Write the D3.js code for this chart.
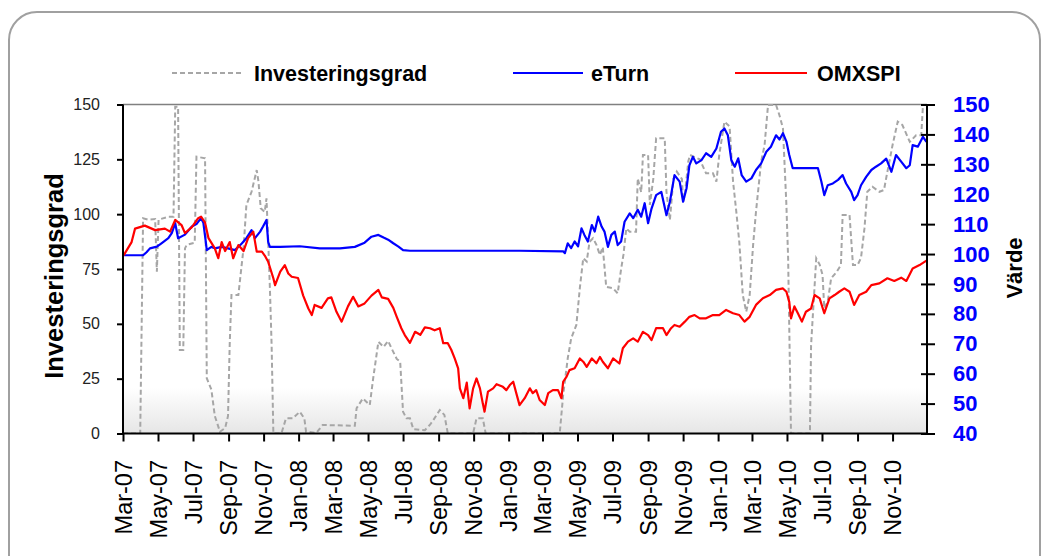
<!DOCTYPE html>
<html><head><meta charset="utf-8">
<script src="https://cdnjs.cloudflare.com/ajax/libs/d3/7.8.5/d3.min.js"></script>
<style>html,body{margin:0;padding:0;background:#fff;} svg{display:block;font-family:"Liberation Sans",Arial,sans-serif;}</style>
</head><body><svg id="chart" width="1048" height="556"></svg>
<script>
// ---------- data ----------
const seriesNames = ["Investeringsgrad", "eTurn", "OMXSPI"];
const xTickDates = ["2007-03-01","2007-05-01","2007-07-01","2007-09-01","2007-11-01","2008-01-01","2008-03-01","2008-05-01","2008-07-01","2008-09-01","2008-11-01","2009-01-01","2009-03-01","2009-05-01","2009-07-01","2009-09-01","2009-11-01","2010-01-01","2010-03-01","2010-05-01","2010-07-01","2010-09-01","2010-11-01"];
const xTickLabels = ["Mar-07","May-07","Jul-07","Sep-07","Nov-07","Jan-08","Mar-08","May-08","Jul-08","Sep-08","Nov-08","Jan-09","Mar-09","May-09","Jul-09","Sep-09","Nov-09","Jan-10","Mar-10","May-10","Jul-10","Sep-10","Nov-10"];
const leftTicks = [0, 25, 50, 75, 100, 125, 150];
const rightTicks = [40, 50, 60, 70, 80, 90, 100, 110, 120, 130, 140, 150];

const invDates = ["2007-03-01","2007-03-31","2007-04-05","2007-04-14","2007-04-26","2007-04-29","2007-05-02","2007-05-19","2007-05-28","2007-05-31","2007-06-05","2007-06-08","2007-06-14","2007-06-17","2007-06-20","2007-07-04","2007-07-07","2007-07-22","2007-07-25","2007-08-02","2007-08-08","2007-08-17","2007-08-26","2007-08-31","2007-09-03","2007-09-06","2007-09-18","2007-09-27","2007-10-02","2007-10-11","2007-10-20","2007-10-23","2007-10-27","2007-11-03","2007-11-06","2007-11-09","2007-11-12","2007-11-15","2007-11-18","2007-12-02","2007-12-10","2007-12-22","2008-01-03","2008-01-11","2008-01-14","2008-02-01","2008-02-12","2008-04-08","2008-04-11","2008-04-22","2008-05-04","2008-05-10","2008-05-19","2008-05-28","2008-06-05","2008-06-11","2008-06-20","2008-06-26","2008-07-01","2008-07-07","2008-07-13","2008-07-19","2008-08-08","2008-08-17","2008-08-23","2008-09-03","2008-09-11","2008-09-17","2008-10-31","2008-11-06","2008-11-17","2008-11-22","2009-03-31","2009-04-06","2009-04-14","2009-04-20","2009-04-29","2009-05-05","2009-05-11","2009-05-17","2009-05-22","2009-05-28","2009-06-03","2009-06-09","2009-06-14","2009-06-20","2009-07-02","2009-07-10","2009-07-16","2009-07-20","2009-07-25","2009-07-31","2009-08-11","2009-08-14","2009-08-20","2009-08-23","2009-09-01","2009-09-04","2009-09-10","2009-09-15","2009-09-30","2009-10-03","2009-10-09","2009-10-15","2009-10-21","2009-10-30","2009-11-01","2009-11-04","2009-11-10","2009-11-13","2009-11-30","2009-12-11","2009-12-23","2009-12-29","2010-01-03","2010-01-12","2010-01-21","2010-01-27","2010-02-02","2010-02-07","2010-02-13","2010-02-19","2010-02-25","2010-03-03","2010-03-08","2010-03-17","2010-03-23","2010-03-29","2010-04-12","2010-04-18","2010-04-24","2010-04-30","2010-05-03","2010-05-08","2010-06-10","2010-06-12","2010-06-21","2010-06-27","2010-07-02","2010-07-05","2010-07-11","2010-07-17","2010-07-26","2010-08-03","2010-08-06","2010-08-18","2010-08-24","2010-09-01","2010-09-07","2010-09-13","2010-09-18","2010-09-27","2010-10-09","2010-10-17","2010-10-23","2010-11-01","2010-11-10","2010-11-18","2010-12-01","2010-12-12","2010-12-21","2010-12-24","2010-12-30"];
const invValues = [0,0,98.1,97.5,97.8,73.8,97.5,98.8,98.8,149,149,38.1,38.1,84.4,86,87,126.2,125.5,25.2,20,8,0.8,2.5,8,41.1,63.1,63.1,84.4,104.2,110.2,120.1,115,102.7,101,107.2,88,66.2,40,0,0,6.9,6.9,9.9,6.9,0.8,0.3,3.9,3.5,11.5,16,13,25.2,41.8,39.5,42.2,38.8,34,32.7,9.9,6.9,6.9,2,1.5,4,6.2,10.7,8.5,0,0,6.9,6.9,0,0,17.6,34.3,43.4,49.5,66.2,79.9,78.4,87.4,89,86,81.4,85,66.9,66.2,63.9,75,81.4,93.5,92,92,116.3,110,127,127,104.2,116,134.6,134.6,110.2,97.3,116,119.4,116,105.7,108.7,124,127,125,118.6,118.6,114.8,127,142.2,140,115,100.4,87,63.1,55.5,63.1,86,101.1,124,131.5,149.8,149.8,145,139.1,104.2,80,0,0,40.3,79.9,77,72.3,57.1,60,70.8,73.5,76.8,99.6,99.6,76.8,76.8,80,93.5,110.2,112.5,110.2,111,119.4,131.5,142.2,140.7,133,136,136,149.8,149.8];

const eturnDates = ["2007-03-01","2007-04-05","2007-04-11","2007-04-17","2007-04-29","2007-05-07","2007-05-19","2007-05-25","2007-05-31","2007-06-05","2007-06-17","2007-06-29","2007-07-07","2007-07-15","2007-07-19","2007-07-23","2007-07-25","2007-08-02","2007-08-08","2007-08-20","2007-08-31","2007-09-12","2007-09-24","2007-10-02","2007-10-11","2007-10-17","2007-10-26","2007-10-31","2007-11-06","2007-11-09","2007-11-12","2007-11-30","2008-01-03","2008-02-07","2008-03-13","2008-04-08","2008-04-25","2008-05-07","2008-05-19","2008-05-28","2008-06-05","2008-06-14","2008-06-23","2008-07-01","2008-07-13","2008-09-20","2008-10-25","2009-01-20","2009-04-06","2009-04-09","2009-04-14","2009-04-20","2009-04-26","2009-05-02","2009-05-08","2009-05-13","2009-05-19","2009-05-26","2009-05-31","2009-06-06","2009-06-12","2009-06-17","2009-06-23","2009-06-29","2009-07-05","2009-07-10","2009-07-16","2009-07-22","2009-07-31","2009-08-06","2009-08-14","2009-08-20","2009-08-26","2009-09-01","2009-09-07","2009-09-15","2009-09-24","2009-10-03","2009-10-09","2009-10-17","2009-10-26","2009-11-01","2009-11-07","2009-11-12","2009-11-18","2009-11-24","2009-12-03","2009-12-11","2009-12-20","2009-12-29","2010-01-06","2010-01-12","2010-01-18","2010-01-24","2010-01-30","2010-02-05","2010-02-11","2010-02-19","2010-02-28","2010-03-08","2010-03-17","2010-03-26","2010-04-03","2010-04-12","2010-04-18","2010-04-24","2010-04-30","2010-05-05","2010-05-11","2010-06-24","2010-06-30","2010-07-05","2010-07-11","2010-07-20","2010-07-29","2010-08-06","2010-08-12","2010-08-21","2010-08-26","2010-09-01","2010-09-07","2010-09-16","2010-09-25","2010-10-03","2010-10-12","2010-10-21","2010-10-30","2010-11-07","2010-11-16","2010-11-25","2010-12-01","2010-12-06","2010-12-15","2010-12-24","2010-12-30"];
const eturnValues = [99.6,99.6,100.6,101.9,102.5,103.6,105.3,107,110.3,105.3,106.5,109.2,110,112,110.5,104.5,101.3,102.4,101.9,102.4,101.9,101.3,103.5,105.3,108,105.3,107.5,109.2,111.4,104,102.4,102.4,102.6,101.9,101.9,102.4,103.8,105.8,106.4,105.5,104.8,103.6,102.5,101.3,101.1,101.1,101.1,101.1,100.9,100.3,103.6,102,104.2,102.6,108.6,106.4,104.2,109.7,107.5,112.5,109.2,107.5,102.4,106.4,107.5,103,104.2,110.8,113.6,112,114.8,112.5,117,110.3,115.2,119.7,120.8,113,117.5,126.4,124.2,117.5,122,129.7,132.5,130.3,131.4,133.7,132.5,135.3,140.9,142,139.7,131.4,129.2,132,126.4,124.2,125.3,128.1,130.3,134.2,135.9,139.7,138.3,140.4,137.6,133.1,128.7,128.7,124.2,119.7,123,123.6,124.8,126.4,123.6,120.8,118,119.7,123,125.8,128.1,129.2,130.3,131.9,127.5,133.1,130.9,128.7,129.7,136.4,135.9,139.2,137.5];

const omxDates = ["2007-03-02","2007-03-16","2007-03-22","2007-04-08","2007-04-26","2007-05-13","2007-05-22","2007-05-31","2007-06-11","2007-06-17","2007-06-29","2007-07-10","2007-07-15","2007-07-22","2007-07-28","2007-08-08","2007-08-14","2007-08-20","2007-08-26","2007-09-03","2007-09-09","2007-09-18","2007-09-27","2007-10-05","2007-10-14","2007-10-20","2007-10-29","2007-11-03","2007-11-09","2007-11-18","2007-11-21","2007-11-30","2007-12-08","2007-12-14","2007-12-20","2007-12-31","2008-01-09","2008-01-18","2008-01-24","2008-01-29","2008-02-10","2008-02-21","2008-02-27","2008-03-07","2008-03-16","2008-03-27","2008-04-05","2008-04-14","2008-04-25","2008-05-07","2008-05-19","2008-05-25","2008-06-05","2008-06-14","2008-06-20","2008-06-28","2008-07-04","2008-07-13","2008-07-22","2008-07-31","2008-08-08","2008-08-17","2008-08-25","2008-09-03","2008-09-09","2008-09-17","2008-09-23","2008-09-29","2008-10-05","2008-10-08","2008-10-14","2008-10-20","2008-10-22","2008-10-25","2008-10-31","2008-11-06","2008-11-12","2008-11-17","2008-11-20","2008-11-26","2008-12-05","2008-12-11","2008-12-22","2008-12-28","2009-01-03","2009-01-09","2009-01-15","2009-01-20","2009-01-29","2009-02-07","2009-02-12","2009-02-18","2009-02-24","2009-03-05","2009-03-11","2009-03-19","2009-03-28","2009-04-03","2009-04-06","2009-04-12","2009-04-17","2009-04-26","2009-05-05","2009-05-11","2009-05-17","2009-05-26","2009-06-03","2009-06-09","2009-06-14","2009-06-23","2009-07-02","2009-07-13","2009-07-19","2009-07-28","2009-08-06","2009-08-14","2009-08-23","2009-09-01","2009-09-07","2009-09-15","2009-09-27","2009-10-03","2009-10-11","2009-10-17","2009-10-26","2009-11-04","2009-11-12","2009-11-21","2009-11-30","2009-12-11","2009-12-23","2010-01-03","2010-01-15","2010-01-27","2010-02-07","2010-02-16","2010-02-25","2010-03-08","2010-03-20","2010-04-01","2010-04-12","2010-04-24","2010-04-30","2010-05-05","2010-05-08","2010-05-14","2010-05-20","2010-05-27","2010-06-03","2010-06-12","2010-06-18","2010-06-27","2010-07-05","2010-07-14","2010-07-23","2010-07-31","2010-08-09","2010-08-18","2010-08-26","2010-09-04","2010-09-16","2010-09-25","2010-10-09","2010-10-23","2010-11-04","2010-11-16","2010-11-25","2010-12-06","2010-12-18","2010-12-30"];
const omxValues = [99.5,104,108.5,109.5,108,108.5,107.5,111.4,109.7,107,109,112,112.5,110.5,105.3,101.9,98.6,104,101,104,98.6,103,101,105.3,107.5,100.8,100.8,99.5,97.4,91.9,89.6,94.1,96.3,93.5,92.4,92,86.1,81.8,79.6,83,82,85.2,85.5,80.7,77.4,82.5,85.7,82.5,83.5,86.1,88,85.5,85,82,79,75.2,72.9,70.3,74,73,75.5,75.2,74.5,75.2,70.2,70.2,68,65.1,61.8,55.1,51.8,57,53.5,48.4,55,58.4,55.1,50,47.3,54,55.1,56.5,55.6,54.5,56.2,57.3,53,49.5,51.8,55.1,53.5,54.5,51.2,49.5,53.5,54.5,54.5,51.8,57.3,59,61.2,61.8,65.1,64,62.3,65.1,63.5,65.6,64,61.8,65.1,63.4,68.5,70.7,71.8,70.7,74,72.9,71.2,75.2,75.2,72.9,75.2,76.3,75.7,77.4,79,79.6,78.5,78.5,79.6,79.6,81.3,80.2,79.6,77.4,79,83,85.2,86.3,88,88.5,87.4,84,78.5,82.5,80.2,77.4,80.7,81.8,86.3,85.2,80.2,85.2,86.3,87.4,88.5,87.4,83,86.3,87.4,89.6,90.2,91.9,91,92.1,91,95.2,96.3,97.8];

// ---------- chart ----------
const parse = d3.timeParse("%Y-%m-%d");
const svg = d3.select("#chart");
const L = 123, R = 927, T = 104.5, B = 433.5;

const x = d3.scaleTime().domain([parse("2007-03-01"), parse("2010-12-31")]).range([L, R]);
const yL = d3.scaleLinear().domain([0, 150]).range([B, T]);
const yR = d3.scaleLinear().domain([40, 150]).range([B, T]);

// outer frame
svg.append("rect").attr("x", 9).attr("y", 12).attr("width", 1031).attr("height", 620)
  .attr("rx", 28).attr("fill", "#fff").attr("stroke", "#a0a0a0").attr("stroke-width", 2);

// plot background gradient
const defs = svg.append("defs");
const grad = defs.append("linearGradient").attr("id", "bg").attr("x1", 0).attr("y1", 0).attr("x2", 0).attr("y2", 1);
grad.append("stop").attr("offset", "0").attr("stop-color", "#ffffff");
grad.append("stop").attr("offset", "0.86").attr("stop-color", "#ffffff");
grad.append("stop").attr("offset", "1").attr("stop-color", "#e6e6e6");
defs.append("clipPath").attr("id", "clip").append("rect").attr("x", L).attr("y", T - 2).attr("width", R - L).attr("height", B - T + 2);

svg.append("rect").attr("x", L).attr("y", T).attr("width", R - L).attr("height", B - T).attr("fill", "url(#bg)");
svg.append("line").attr("x1", L).attr("x2", R).attr("y1", T).attr("y2", T).attr("stroke", "#808080").attr("stroke-width", 1.5);

// lines
const mk = (dates, vals) => dates.map((d, i) => ({ d: parse(d), v: vals[i] }));
const plot = svg.append("g").attr("clip-path", "url(#clip)");
plot.append("path").datum(mk(invDates, invValues))
  .attr("d", d3.line().x(p => x(p.d)).y(p => yL(p.v)))
  .attr("fill", "none").attr("stroke", "#a6a6a6").attr("stroke-width", 2).attr("stroke-dasharray", "5,3");
plot.append("path").datum(mk(eturnDates, eturnValues))
  .attr("d", d3.line().x(p => x(p.d)).y(p => yR(p.v)))
  .attr("fill", "none").attr("stroke", "#0000ff").attr("stroke-width", 2.2).attr("stroke-linejoin", "round");
plot.append("path").datum(mk(omxDates, omxValues))
  .attr("d", d3.line().x(p => x(p.d)).y(p => yR(p.v)))
  .attr("fill", "none").attr("stroke", "#ff0000").attr("stroke-width", 2.2).attr("stroke-linejoin", "round");

// axes
const gl = svg.append("g").attr("transform", `translate(${L},0)`)
  .call(d3.axisLeft(yL).tickValues(leftTicks).tickSize(6).tickPadding(17));
gl.select(".domain").remove();
gl.selectAll(".tick line").attr("stroke", "#000").attr("stroke-width", 2);
gl.selectAll(".tick text").attr("font-size", 16).attr("fill", "#222").attr("font-family", "'Liberation Sans',Arial,sans-serif");

const gr = svg.append("g").attr("transform", `translate(${R},0)`)
  .call(d3.axisRight(yR).tickValues(rightTicks).tickSize(8).tickPadding(18));
gr.select(".domain").remove();
gr.selectAll(".tick line").attr("x1", -6).attr("x2", 8).attr("stroke", "#000").attr("stroke-width", 2);
gr.selectAll(".tick text").attr("font-size", 22).attr("font-weight", "bold").attr("fill", "#0000ff").attr("font-family", "'Liberation Sans',Arial,sans-serif");

const gb = svg.append("g").attr("transform", `translate(0,${B})`)
  .call(d3.axisBottom(x).tickValues(xTickDates.map(parse)).tickFormat((d, i) => xTickLabels[i]).tickSize(8));
gb.select(".domain").remove();
gb.selectAll(".tick line").attr("stroke", "#000").attr("stroke-width", 2);
gb.selectAll(".tick text").attr("font-size", 23.5).attr("fill", "#000").attr("font-family", "'Liberation Sans',Arial,sans-serif")
  .attr("transform", "rotate(-90)").attr("text-anchor", "end").attr("x", -26.5).attr("y", 0).attr("dy", "0.35em");

// axis lines
svg.append("line").attr("x1", L).attr("x2", L).attr("y1", T).attr("y2", B + 1).attr("stroke", "#000").attr("stroke-width", 2);
svg.append("line").attr("x1", R).attr("x2", R).attr("y1", T).attr("y2", B + 1).attr("stroke", "#000").attr("stroke-width", 2);
svg.append("line").attr("x1", L - 1).attr("x2", R + 1).attr("y1", B).attr("y2", B).attr("stroke", "#000").attr("stroke-width", 2);

// titles
svg.append("text").attr("transform", "translate(63,276) rotate(-90)").attr("text-anchor", "middle")
  .attr("font-size", 25.5).attr("font-weight", "bold").attr("fill", "#000").text(seriesNames[0]);
svg.append("text").attr("transform", "translate(1022,268) rotate(-90)").attr("text-anchor", "middle")
  .attr("font-size", 22).attr("font-weight", "bold").attr("fill", "#000").text("Värde");

// legend
const legend = [
  { name: seriesNames[0], x1: 172, x2: 243, tx: 254, color: "#a6a6a6", dash: "5,3" },
  { name: seriesNames[1], x1: 513, x2: 583, tx: 591, color: "#0000ff", dash: null },
  { name: seriesNames[2], x1: 735, x2: 807, tx: 817, color: "#ff0000", dash: null }
];
legend.forEach(l => {
  svg.append("line").attr("x1", l.x1).attr("x2", l.x2).attr("y1", 73).attr("y2", 73)
    .attr("stroke", l.color).attr("stroke-width", 2).attr("stroke-dasharray", l.dash);
  svg.append("text").attr("x", l.tx).attr("y", 81).attr("font-size", 21.5).attr("font-weight", "bold")
    .attr("fill", "#000").text(l.name);
});
</script></body></html>
